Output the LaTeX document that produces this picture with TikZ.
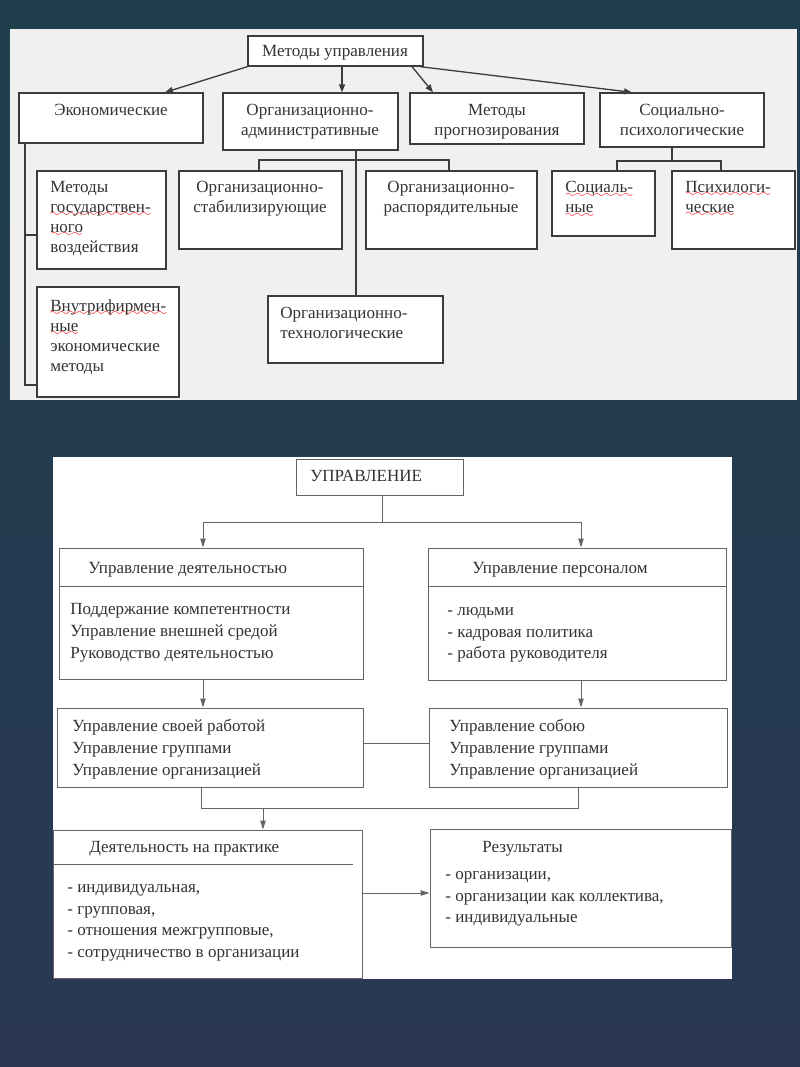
\documentclass[tikz,border=0pt]{standalone}
\usepackage{fontspec}
\setmainfont{Liberation Serif}
\usetikzlibrary{arrows.meta, fit, positioning}

% red spell-check wave under a word
\newsavebox\spellbox
\font\wavefont=lasy6
\newcommand\spell[1]{\sbox\spellbox{#1}\rlap{\lower2.5pt\hbox to\wd\spellbox{\color{red}\xleaders\hbox{\wavefont\char58}\hfil}}\usebox\spellbox}

\definecolor{slidetop}{RGB}{31,63,77}
\definecolor{slidemid}{RGB}{50,78,95}
\definecolor{slidebot}{RGB}{42,56,84}
\definecolor{panelgray}{RGB}{240,240,240}
\definecolor{linegray}{RGB}{60,60,60}
\definecolor{thingray}{RGB}{100,100,100}

\begin{document}
\begin{tikzpicture}[
    x=0.02cm, y=-0.02cm,
    font=\fontsize{9.7}{11.4}\selectfont,
    box/.style={draw=linegray, fill=white, line width=0.75pt, inner sep=0pt},
    box2/.style={draw=thingray, fill=white, line width=0.55pt, inner sep=0pt},
    txt/.style={inner sep=0pt, align=left, anchor=north west, text=black!80},
    ctxt/.style={inner sep=0pt, align=center, anchor=north, text=black!80},
    link/.style={draw=linegray, line width=0.75pt},
    link2/.style={draw=thingray, line width=0.55pt},
    arr/.style={link, -{Triangle[length=4.5pt,width=3.4pt]}},
    arr2/.style={link2, -{Triangle[length=5pt,width=3pt]}}
]

    % Background
    \useasboundingbox (0,0) rectangle (800,1067);
    \shade[top color=slidetop, middle color=slidemid, bottom color=slidebot] (0,0) rectangle (800,1067);
    \fill[panelgray] (10,29) rectangle (797,400);
    \fill[white] (53,457) rectangle (732,979);

    % Methods: top row
    \node[box, fit={(248,36) (423,66)}] (mu) {};
    \node[ctxt] (mu-t) at (335,45) {Методы управления};
    \node[box, fit={(19,93) (203,143)}] (eco) {};
    \node[ctxt] (eco-t) at (111,104) {Экономические};
    \node[box, fit={(223,93) (398,150)}] (orgadm) {};
    \node[ctxt] (orgadm-t) at (310,104) {Организационно-\\административные};
    \node[box, fit={(410,93) (584,144)}] (prog) {};
    \node[ctxt] (prog-t) at (497,104) {Методы\\прогнозирования};
    \node[box, fit={(600,93) (764,147)}] (socpsy) {};
    \node[ctxt] (socpsy-t) at (682,104) {Социально-\\психологические};

    % Methods: second row
    \node[box, fit={(37,171) (166,269)}] (gos) {};
    \node[txt] (gos-t) at (50,181) {Методы\\\spell{государствен-}\\\spell{ного}\\воздействия};
    \node[box, fit={(37,287) (179,397)}] (vnutr) {};
    \node[txt] (vnutr-t) at (50,299) {\spell{Внутрифирмен-}\\\spell{ные}\\экономические\\методы};
    \node[box, fit={(179,171) (342,249)}] (stab) {};
    \node[ctxt] (stab-t) at (260,181) {Организационно-\\стабилизирующие};
    \node[box, fit={(366,171) (537,249)}] (rasp) {};
    \node[ctxt] (rasp-t) at (451,181) {Организационно-\\распорядительные};
    \node[box, fit={(268,296) (443,363)}] (tech) {};
    \node[txt] (tech-t) at (280,307) {Организационно-\\технологические};
    \node[box, fit={(552,171) (655,236)}] (soc) {};
    \node[txt] (soc-t) at (565,181) {\spell{Социаль-}\\\spell{ные}};
    \node[box, fit={(672,171) (795,249)}] (psy) {};
    \node[txt] (psy-t) at (685,181) {\spell{Психилоги-}\\\spell{ческие}};

    % Arrows from the top box
    \draw[arr] (mu.south west) -- (eco.north -| 165,0);
    \draw[arr] (mu.south -| 342,0) -- (orgadm.north -| 342,0);
    \draw[arr] (mu.south -| 412,0) -- (prog.north -| 433,0);
    \draw[arr] (mu.south -| 420,0) -- (socpsy.north -| 632,0);

    % Branches
    \coordinate (oa-bus) at (356,160);
    \coordinate (sp-bus) at (672,161);
    \draw[link] (eco.south -| 25,0) |- (vnutr.west |- 0,385);
    \draw[link] (eco.south -| 25,0) |- (gos.west |- 0,235);
    \draw[link] (orgadm.south -| oa-bus) -- (tech.north -| oa-bus);
    \draw[link] (stab.north -| 259,0) |- (oa-bus) -| (rasp.north -| 449,0);
    \draw[link] (socpsy.south -| sp-bus) -- (sp-bus);
    \draw[link] (soc.north -| 617,0) |- (sp-bus) -| (psy.north -| 721,0);

    \begin{scope}[font=\fontsize{9.7}{12.4}\selectfont]
    % Management: boxes
    \node[box2, fit={(296,459) (463,495)}] (upr) {};
    \node[txt] (upr-t) at (310,470) {УПРАВЛЕНИЕ};

    \node[box2, fit={(59,548) (363,679)}] (deyat) {};
    \draw[link2] (deyat.west |- 0,586) -- (deyat.east |- 0,586);
    \node[txt] (deyat-h) at (88,562) {Управление деятельностью};
    \node[txt] (deyat-t) at (70,603) {Поддержание компетентности\\Управление внешней средой\\Руководство деятельностью};

    \node[box2, fit={(428,548) (726,680)}] (pers) {};
    \draw[link2] (pers.west |- 0,586) -- (pers.east |- 0,586);
    \node[txt] (pers-h) at (472,562) {Управление персоналом};
    \node[txt] (pers-t) at (447,607) {- людьми\\- кадровая политика\\- работа руководителя};

    \node[box2, fit={(57,708) (363,787)}] (svoy) {};
    \node[txt] (svoy-t) at (72,719) {Управление своей работой\\Управление группами\\Управление организацией};
    \node[box2, fit={(429,708) (727,787)}] (soboy) {};
    \node[txt] (soboy-t) at (449,719) {Управление собою\\Управление группами\\Управление организацией};

    \node[box2, fit={(53,830) (362,978)}] (prakt) {};
    \draw[link2] (prakt.west |- 0,864) -- (353,864);
    \node[txt] (prakt-h) at (89,841) {Деятельность на практике};
    \node[txt] (prakt-t) at (67,884) {- индивидуальная,\\- групповая,\\- отношения межгрупповые,\\- сотрудничество в организации};

    \node[box2, fit={(430,829) (731,947)}] (rez) {};
    \node[txt] (rez-h) at (482,841) {Результаты};
    \node[txt] (rez-t) at (445,871) {- организации,\\- организации как коллектива,\\- индивидуальные};
    \end{scope}

    % Management: connectors
    \coordinate (upr-bus) at (382,522);
    \coordinate (join-r) at (578,808);
    \draw[link2] (upr.south -| upr-bus) -- (upr-bus);
    \draw[arr2] (upr-bus) -| (deyat.north -| 203,0);
    \draw[arr2] (upr-bus) -| (pers.north -| 581,0);
    \draw[arr2] (deyat.south -| 203,0) -- (svoy.north -| 203,0);
    \draw[arr2] (pers.south -| 581,0) -- (soboy.north -| 581,0);
    \draw[link2] (svoy.east |- 0,743) -- (soboy.west |- 0,743);
    \draw[link2] (svoy.south -| 201,0) |- (join-r) -- (soboy.south -| join-r);
    \draw[arr2] (join-r -| 263,0) -- (prakt.north -| 263,0);
    \draw[arr2] (prakt.east |- 0,893) -- (rez.west |- 0,893);

\end{tikzpicture}
\end{document}
